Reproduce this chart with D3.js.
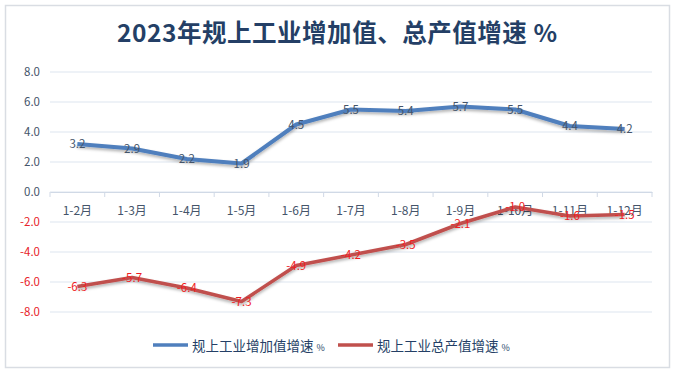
<!DOCTYPE html>
<html lang="zh">
<head>
<meta charset="UTF-8">
<title>2023年规上工业增加值、总产值增速</title>
<style>
  body { margin: 0; background: #fff; }
  svg { display: block; font-family: "Noto Sans CJK SC", "Noto Sans", sans-serif; }
</style>
</head>
<body>
<script src="https://d3js.org/d3.v7.min.js"></script>
<script>
const months = ['1-2月', '1-3月', '1-4月', '1-5月', '1-6月', '1-7月', '1-8月', '1-9月', '1-10月', '1-11月', '1-12月'];
const addedValue = [3.2, 2.9, 2.2, 1.9, 4.5, 5.5, 5.4, 5.7, 5.5, 4.4, 4.2];
const grossOutput = [-6.3, -5.7, -6.4, -7.3, -4.9, -4.2, -3.5, -2.1, -1.0, -1.6, -1.5];
const yTicks = [8, 6, 4, 2, 0, -2, -4, -6, -8];
const seriesNames = ['规上工业增加值增速', '规上工业总产值增速'];

const W = 675, H = 373;
const plotL = 50, plotR = 652, plotT = 72, plotB = 312;

const svg = d3.select('body').append('svg')
    .attr('width', W)
    .attr('height', H);

// outer frame
svg.append('rect')
    .attr('x', 5.5).attr('y', 5.5)
    .attr('width', 664).attr('height', 362)
    .attr('fill', '#fff')
    .attr('stroke', '#d9dde3')
    .attr('stroke-width', 1.5);

svg.append('text')
    .attr('x', 117).attr('y', 42)
    .attr('font-size', 24.5)
    .attr('font-weight', 'bold')
    .attr('fill', '#243f66')
    .attr('textLength', 440)
    .attr('lengthAdjust', 'spacing')
    .text('2023年规上工业增加值、总产值增速\u00a0%');

const x = d3.scaleBand().domain(months).range([plotL, plotR]);
const y = d3.scaleLinear().domain([-8, 8]).range([plotB, plotT]);

// gridlines
svg.append('g').selectAll('line')
    .data(yTicks)
    .enter()
    .append('line')
    .attr('x1', plotL).attr('x2', plotR)
    .attr('y1', d => y(d)).attr('y2', d => y(d))
    .attr('stroke', '#dde5ef')
    .attr('stroke-width', 1);

// y labels
svg.append('g').selectAll('text')
    .data(yTicks)
    .enter()
    .append('text')
    .attr('x', 40)
    .attr('y', d => y(d) + 4)
    .attr('text-anchor', 'end')
    .attr('font-size', 11.5)
    .attr('fill', d => d < 0 ? '#e8232a' : '#44546a')
    .text(d => d.toFixed(1));

// x axis at zero
const xAxis = svg.append('g')
    .attr('transform', `translate(0,${y(0)})`)
    .call(d3.axisBottom(x).tickSize(0).tickPadding(14));
xAxis.select('.domain').attr('stroke', '#d0d9e6');
xAxis.selectAll('text')
    .attr('font-size', 12)
    .attr('fill', '#44546a')
    .attr('font-family', '"Noto Sans CJK SC", sans-serif');
// band boundary ticks
svg.append('g').selectAll('line')
    .data(months.concat(['end']))
    .enter()
    .append('line')
    .attr('x1', (d, i) => i < months.length ? x(d) : plotR)
    .attr('x2', (d, i) => i < months.length ? x(d) : plotR)
    .attr('y1', y(0)).attr('y2', y(0) + 5)
    .attr('stroke', '#d0d9e6');

const cx = d => x(d) + x.bandwidth() / 2;

const defs = svg.append('defs');
const f = defs.append('filter').attr('id', 'shadow').attr('x', '-10%').attr('y', '-20%').attr('width', '120%').attr('height', '150%');
f.append('feDropShadow').attr('dx', 0).attr('dy', 2).attr('stdDeviation', 1.5).attr('flood-color', '#000').attr('flood-opacity', 0.3);

const line = d3.line()
    .x((d, i) => cx(months[i]))
    .y(d => y(d));

svg.append('path')
    .datum(addedValue)
    .attr('d', line)
    .attr('fill', 'none')
    .attr('stroke', '#4f7fbd')
    .attr('stroke-width', 4)
    .attr('stroke-linejoin', 'round')
    .attr('filter', 'url(#shadow)');

svg.append('path')
    .datum(grossOutput)
    .attr('d', line)
    .attr('fill', 'none')
    .attr('stroke', '#c0504d')
    .attr('stroke-width', 3.5)
    .attr('stroke-linejoin', 'round')
    .attr('filter', 'url(#shadow)');

svg.append('g').selectAll('text')
    .data(addedValue)
    .enter()
    .append('text')
    .attr('x', (d, i) => cx(months[i]))
    .attr('y', d => y(d) + 4)
    .attr('text-anchor', 'middle')
    .attr('font-size', 11.5)
    .attr('fill', '#44546a')
    .text(d => d.toFixed(1));

svg.append('g').selectAll('text')
    .data(grossOutput)
    .enter()
    .append('text')
    .attr('x', (d, i) => cx(months[i]))
    .attr('y', d => y(d) + 4)
    .attr('text-anchor', 'middle')
    .attr('font-size', 11.5)
    .attr('fill', '#f01e24')
    .text(d => d.toFixed(1));

// legend
const legend = svg.append('g');
const legendX = [153, 338];
const colors = ['#4f7fbd', '#c0504d'];
seriesNames.forEach((name, i) => {
    legend.append('line')
        .attr('x1', legendX[i]).attr('x2', legendX[i] + 35)
        .attr('y1', 345).attr('y2', 345)
        .attr('stroke', colors[i])
        .attr('stroke-width', 3.5);
    const t = legend.append('text')
        .attr('x', legendX[i] + 39)
        .attr('y', 351)
        .attr('font-size', 13.5)
        .attr('fill', '#243f66');
    t.append('tspan').text(name + ' ');
    t.append('tspan').attr('font-size', 9).text('%');
});
</script>
</body>
</html>
